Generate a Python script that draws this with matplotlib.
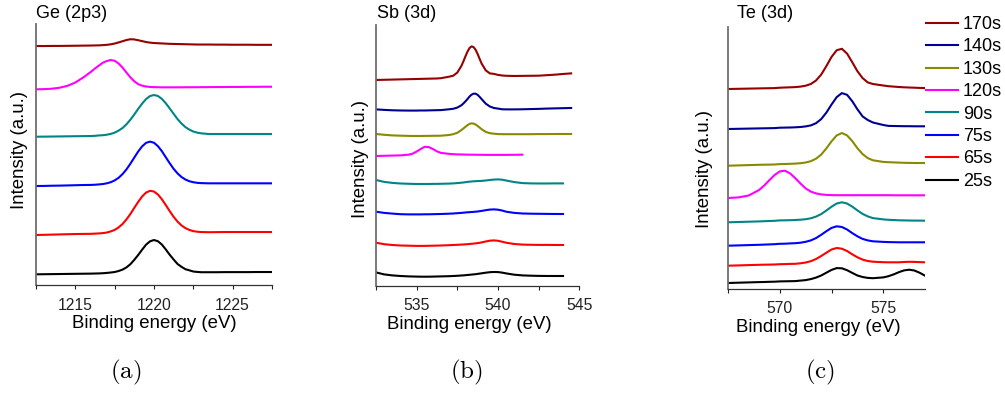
import numpy as np
import matplotlib
matplotlib.use('Agg')
import matplotlib.pyplot as plt
from matplotlib.ticker import MultipleLocator

plt.rcParams['font.family'] = ['Liberation Sans', 'DejaVu Sans']
plt.rcParams['mathtext.fontset'] = 'cm'

# legend order (top to bottom) and colours
times = ['170s', '140s', '130s', '120s', '90s', '75s', '65s', '25s']
colors = {'170s': '#960000', '140s': '#000090', '130s': '#8a8a00', '120s': '#ff00ff',
          '90s': '#008585', '75s': '#0000ff', '65s': '#ff0000', '25s': '#000000'}

nan = np.nan

# Ge (2p3) - binding energy (eV) and stacked intensity (a.u.)
ge_x = [1212.5, 1213.0, 1213.5, 1214.0, 1214.5, 1215.0, 1215.5, 1216.0,
        1216.25, 1216.5, 1216.75, 1217.0, 1217.25, 1217.5, 1217.75, 1218.0, 1218.25, 1218.5,
        1218.75, 1219.0, 1219.25, 1219.5, 1219.75, 1220.0, 1220.25, 1220.5, 1220.75, 1221.0,
        1221.25, 1221.5, 1221.75, 1222.0, 1222.25, 1222.5, 1222.75, 1223.0,
        1223.5, 1224.0, 1224.5, 1225.0, 1225.5, 1226.0, 1226.5, 1227.0, 1227.5]
ge_25s = [10.7, 10.8, 10.9, 11.0, 11.1, 11.2, 11.3, 11.4,
          11.5, 11.6, 11.8, 12.1, 12.5, 13.0, 14.0, 15.4, 17.6, 20.8,
          25.2, 30.1, 35.4, 40.4, 43.7, 45.0, 43.8, 40.5, 35.6, 30.3,
          25.5, 21.0, 18.2, 15.8, 14.7, 13.5, 13.1, 12.8,
          12.8, 12.8, 12.9, 12.9, 12.9, 12.9, 13.0, 13.0, 13.0]
ge_65s = [50.0, 50.2, 50.4, 50.6, 50.8, 51.0, 51.1, 51.2,
          51.4, 51.6, 51.9, 52.5, 53.6, 55.1, 57.6, 61.0, 65.6, 71.0,
          77.2, 83.2, 88.6, 92.5, 94.2, 93.5, 90.6, 85.8, 80.0, 73.9,
          68.2, 63.4, 59.6, 56.9, 55.1, 53.9, 53.3, 53.0,
          52.8, 52.9, 53.0, 53.0, 53.0, 53.0, 53.0, 53.0, 53.0]
ge_75s = [99.0, 99.1, 99.3, 99.4, 99.6, 99.8, 100.0, 100.1,
          100.3, 100.6, 101.0, 101.7, 102.8, 104.6, 107.2, 110.9, 115.6, 121.3,
          127.5, 133.6, 138.7, 142.2, 143.4, 142.3, 138.9, 133.9, 127.8, 121.8,
          116.2, 111.6, 108.0, 105.5, 103.8, 102.8, 102.2, 101.9,
          101.7, 101.7, 101.7, 101.7, 101.7, 101.7, 101.7, 101.7, 101.7]
ge_90s = [148.3, 148.4, 148.5, 148.6, 148.7, 148.8, 148.9, 149.0,
          149.2, 149.6, 149.8, 150.3, 151.1, 152.4, 154.4, 157.0, 160.7, 165.3,
          170.6, 176.2, 181.5, 186.0, 189.0, 190.0, 189.1, 186.2, 181.8, 176.6,
          171.2, 165.9, 161.5, 157.9, 155.4, 153.5, 152.4, 151.7,
          151.0, 151.0, 151.0, 151.0, 151.0, 151.0, 151.0, 151.0, 151.0]
ge_120s = [195.7, 195.9, 196.3, 197.3, 199.2, 202.5, 207.5, 213.3,
           216.5, 219.5, 222.3, 224.0, 225.0, 224.3, 221.5, 217.5, 212.5, 207.7,
           203.8, 200.8, 199.4, 198.5, 198.1, 197.9, 197.8, 197.7, 197.7, 197.7,
           197.7, 197.7, 197.7, 197.8, 197.8, 197.8, 197.8, 197.9,
           197.9, 198.0, 198.0, 198.1, 198.1, 198.2, 198.2, 198.3, 198.3]
ge_170s = [239.0, 239.0, 239.1, 239.1, 239.2, 239.3, 239.4, 239.5,
           239.6, 239.7, 239.9, 240.2, 240.7, 241.5, 242.6, 243.8, 245.0, 245.8,
           245.6, 244.8, 243.9, 243.0, 242.4, 242.0, 241.8, 241.6, 241.4, 241.2,
           241.1, 241.0, 240.9, 240.8, 240.7, 240.6, 240.5, 240.5,
           240.5, 240.4, 240.4, 240.3, 240.3, 240.3, 240.2, 240.2, 240.2]

# Sb (3d)
sb_x = [532.5, 533.0, 533.5, 534.0, 534.5, 534.75, 535.0, 535.25, 535.5, 535.75,
        536.0, 536.25, 536.5, 537.0, 537.25, 537.5, 537.75,
        537.875, 538.0, 538.125, 538.25, 538.375, 538.5, 538.625, 538.75, 538.875,
        539.0, 539.25, 539.5, 539.75, 540.0, 540.25, 540.5, 541.0, 541.5,
        542.0, 542.5, 543.0, 543.5, 544.0, 544.5]
sb_25s = [13.3, 11.3, 10.3, 9.7, 9.3, 9.2, 9.1, 9.0, 9.0, 9.0,
          9.1, 9.2, 9.3, 9.5, 9.7, 9.9, 10.2,
          10.3, 10.5, 10.7, 10.9, 11.1, 11.3, 11.5, 11.8, 12.1,
          12.4, 13.0, 13.5, 13.7, 13.6, 13.1, 12.3, 11.0, 10.3,
          10.0, 9.8, 9.7, 9.7, 9.7, nan]
sb_65s = [43.0, 41.5, 40.7, 40.2, 40.0, 39.9, 39.8, 39.8, 39.8, 39.9,
          40.0, 40.1, 40.2, 40.5, 40.7, 40.9, 41.1,
          41.2, 41.4, 41.5, 41.7, 41.9, 42.1, 42.3, 42.6, 42.9,
          43.3, 44.2, 45.0, 45.3, 44.9, 44.0, 43.0, 41.7, 41.1,
          40.9, 40.8, 40.8, 40.7, 40.7, nan]
sb_75s = [74.0, 72.8, 72.1, 71.5, 71.3, 71.3, 71.3, 71.3, 71.4, 71.4,
          71.5, 71.6, 71.7, 72.0, 72.2, 72.5, 72.8,
          73.0, 73.2, 73.4, 73.5, 73.7, 73.8, 74.0, 74.2, 74.5,
          74.8, 75.5, 76.1, 76.3, 76.0, 75.2, 74.0, 72.8, 72.2,
          72.0, 71.9, 71.8, 71.7, 71.7, nan]
sb_90s = [105.7, 103.8, 102.8, 102.2, 101.9, 101.8, 101.7, 101.7, 101.7, 101.7,
          101.8, 101.8, 101.9, 102.1, 102.3, 102.6, 103.0,
          103.2, 103.5, 103.8, 104.0, 104.2, 104.4, 104.5, 104.6, 104.7,
          104.8, 105.2, 105.7, 106.1, 106.3, 106.0, 105.2, 103.6, 102.6,
          102.3, 102.2, 102.2, 102.3, 102.3, nan]
sb_120s = [129.7, 129.9, 130.1, 130.3, 131.0, 132.0, 134.1, 136.7, 138.9, 138.6,
           136.7, 134.3, 132.8, 131.8, 131.5, 131.3, 131.2,
           131.2, 131.1, 131.0, 131.0, 131.0, 131.0, 131.0, 130.9, 130.9,
           130.9, 130.8, 130.8, 130.8, 130.8, 130.8, 130.8, 130.9, 131.0,
           nan, nan, nan, nan, nan, nan]
sb_130s = [151.7, 150.9, 150.3, 150.0, 149.8, 149.7, 149.7, 149.7, 149.8, 149.8,
           149.9, 149.9, 150.0, 150.7, 151.5, 152.9, 155.6,
           157.2, 158.9, 160.5, 161.8, 162.3, 162.1, 161.2, 159.7, 158.1,
           156.4, 153.8, 152.5, 152.0, 151.6, 151.5, 151.5, 151.5, 151.5,
           151.5, 151.6, 151.6, 151.7, 151.7, 151.7]
sb_140s = [176.3, 175.8, 175.4, 175.2, 175.1, 175.1, 175.1, 175.2, 175.2, 175.3,
           175.4, 175.5, 175.6, 176.4, 176.9, 178.1, 180.4,
           182.2, 184.3, 186.6, 189.1, 191.0, 192.0, 192.0, 190.8, 188.8,
           186.5, 182.0, 179.2, 177.7, 177.1, 176.4, 176.3, 176.3, 176.4,
           176.6, 176.8, 177.1, 177.3, 177.5, 177.7]
sb_170s = [205.7, 205.9, 206.1, 206.3, 206.5, 206.6, 206.7, 206.8, 206.9, 207.0,
           207.1, 207.2, 207.5, 209.0, 210.0, 213.1, 219.7,
           224.3, 229.3, 234.0, 237.6, 239.3, 238.6, 235.9, 231.7, 226.7,
           222.0, 215.3, 212.3, 211.8, 210.8, 210.2, 209.9, 209.7, 209.8,
           209.9, 210.0, 210.5, 211.0, 211.7, 212.3]

# Te (3d)
te_x = [567.5, 568.0, 568.5, 569.0, 569.25, 569.5, 569.75, 570.0, 570.25, 570.5,
        570.75, 571.0, 571.25, 571.5, 571.75, 572.0, 572.25, 572.5, 572.75, 573.0,
        573.25, 573.5, 573.75, 574.0, 574.25, 574.5, 575.0, 575.25, 575.5, 575.75,
        576.0, 576.25, 576.5, 576.75, 577.0]
te_25s = [6.0, 6.3, 6.6, 6.9, 7.0, 7.2, 7.3, 7.6, 7.7, 7.8,
          7.9, 8.4, 8.9, 9.9, 11.4, 13.5, 16.3, 19.1, 20.9, 20.7,
          18.8, 16.1, 13.5, 12.0, 11.1, 10.8, 11.6, 12.8, 14.6, 16.8,
          18.6, 19.3, 18.5, 16.3, 13.5]
te_65s = [23.3, 23.6, 23.9, 24.2, 24.3, 24.4, 24.5, 24.8, 24.9, 25.1,
          25.2, 25.7, 26.5, 27.8, 30.0, 33.0, 36.3, 39.5, 41.0, 40.3,
          38.0, 34.7, 31.7, 29.4, 28.0, 27.3, 26.8, 26.7, 26.7, 26.7,
          27.0, 27.2, 27.1, 26.9, 26.7]
te_75s = [43.3, 43.6, 43.9, 44.2, 44.4, 44.6, 44.8, 45.2, 45.3, 45.6,
          45.8, 46.3, 47.2, 48.6, 50.9, 54.2, 57.8, 61.1, 62.7, 62.0,
          59.5, 55.9, 52.7, 50.1, 48.6, 47.7, 47.1, 46.9, 46.8, 46.7,
          46.7, 46.7, 46.7, 46.7, 46.7]
te_90s = [66.7, 67.0, 67.3, 67.6, 67.8, 68.0, 68.2, 68.6, 68.7, 68.8,
          69.0, 69.3, 69.8, 70.7, 72.4, 74.9, 78.5, 82.3, 85.5, 86.7,
          85.5, 82.4, 78.6, 75.1, 72.6, 70.9, 69.6, 69.2, 69.0, 68.7,
          68.6, 68.5, 68.4, 68.4, 68.3]
te_120s = [91.0, 91.6, 93.5, 99.0, 103.5, 108.9, 114.0, 117.6, 118.3, 115.6,
           110.8, 105.5, 100.6, 97.4, 95.6, 94.6, 94.1, 93.9, 93.8, 93.8,
           93.8, 93.8, 93.8, 93.8, 93.8, 93.8, 93.8, 93.8, 93.7, 93.7,
           93.7, 93.7, 93.7, 93.7, 93.7]
te_130s = [123.3, 123.6, 123.9, 124.2, 124.3, 124.4, 124.5, 124.9, 125.0, 125.2,
           125.4, 125.8, 126.5, 127.8, 130.3, 134.4, 140.6, 147.7, 153.6, 156.0,
           153.6, 147.9, 140.8, 134.9, 130.9, 128.7, 127.1, 126.8, 126.6, 126.4,
           126.2, 126.1, 126.0, 126.0, 126.0]
te_140s = [160.0, 160.2, 160.4, 160.6, 160.7, 160.8, 160.9, 161.3, 161.4, 161.5,
           161.7, 162.0, 162.6, 163.6, 165.8, 169.9, 176.4, 184.5, 191.9, 195.9,
           194.2, 187.8, 179.7, 172.6, 169.0, 166.5, 164.0, 163.1, 163.0, 162.9,
           162.8, 162.8, 162.7, 162.7, 162.7]
te_170s = [200.0, 200.2, 200.4, 200.6, 200.7, 200.8, 200.9, 201.3, 201.5, 201.7,
           201.9, 202.4, 203.3, 205.0, 208.5, 214.4, 222.9, 232.1, 238.8, 240.2,
           235.4, 226.8, 217.8, 210.9, 206.6, 205.0, 203.5, 202.8, 202.4, 202.0,
           201.7, 201.5, 201.3, 201.1, 201.0]

panels = [
    dict(title='Ge (2p3)', tx=36, tag='(a)', tagx=126, pos=[0.0358, 0.2766, 0.2348, 0.6624],
         xlim=(1212.5, 1227.5), ylim=(0, 261), x=ge_x, ylab_y=0.517, ylabpad=6, xlab_x=0.5,
         series={'25s': ge_25s, '65s': ge_65s, '75s': ge_75s, '90s': ge_90s,
                 '120s': ge_120s, '170s': ge_170s}),
    dict(title='Sb (3d)', tx=377, tag='(b)', tagx=466, pos=[0.3741, 0.2749, 0.2023, 0.6617],
         xlim=(532.5, 545.0), ylim=(0, 260.7), x=sb_x, ylab_y=0.486, ylabpad=5, xlab_x=0.457,
         series={'25s': sb_25s, '65s': sb_65s, '75s': sb_75s, '90s': sb_90s,
                 '120s': sb_120s, '130s': sb_130s, '140s': sb_140s, '170s': sb_170s}),
    dict(title='Te (3d)', tx=737, tag='(c)', tagx=820, pos=[0.7244, 0.2665, 0.1957, 0.6642],
         xlim=(567.5, 577.0), ylim=(0, 261.7), x=te_x, ylab_y=0.459, ylabpad=11, xlab_x=0.458,
         series={'25s': te_25s, '65s': te_65s, '75s': te_75s, '90s': te_90s,
                 '120s': te_120s, '130s': te_130s, '140s': te_140s, '170s': te_170s}),
]

W, H = 1005, 394
fig = plt.figure(figsize=(W / 100, H / 100), dpi=100)

handles = {}
for p in panels:
    ax = fig.add_axes(p['pos'])
    x = np.array(p['x'])
    for name, vals in p['series'].items():
        ln, = ax.plot(x, np.array(vals, dtype=float), color=colors[name], lw=1.5,
                      solid_joinstyle='round', label=name)
        handles[name] = ln
    ax.set_xlim(*p['xlim'])
    ax.set_ylim(*p['ylim'])
    ax.set_yticks([])
    ax.xaxis.set_major_locator(MultipleLocator(5))
    ax.xaxis.set_minor_locator(MultipleLocator(2.5))
    ax.tick_params(axis='x', which='both', direction='out', length=3, width=0.8,
                   pad=6, labelsize=11.3, colors='#222222')
    for s in ['top', 'right']:
        ax.spines[s].set_visible(False)
    ax.spines['left'].set_color('#6e6e6e')
    ax.spines['left'].set_linewidth(1.3)
    ax.spines['bottom'].set_color('#333333')
    ax.spines['bottom'].set_linewidth(0.9)
    ax.set_xlabel('Binding energy (eV)', fontsize=13.4, labelpad=2)
    ax.xaxis.label.set_x(p['xlab_x'])
    ax.set_ylabel('Intensity (a.u.)', fontsize=13.4, labelpad=p['ylabpad'])
    ax.yaxis.label.set_y(p['ylab_y'])
    fig.text(p['tx'] / W, 1 - 17.5 / H, p['title'], fontsize=13, va='baseline', ha='left')
    fig.text(p['tagx'] / W, 1 - 372 / H, r'$\mathrm{' + p['tag'] + '}$', fontsize=18,
             ha='center', va='center')

fig.legend([handles[t] for t in times], times, loc='upper left',
           bbox_to_anchor=(926 / W, 1 - 16 / H), frameon=False, fontsize=13,
           borderpad=0, borderaxespad=0, handlelength=1.75, handletextpad=0.3,
           labelspacing=0.3)

fig.savefig('out.png', dpi=100)
